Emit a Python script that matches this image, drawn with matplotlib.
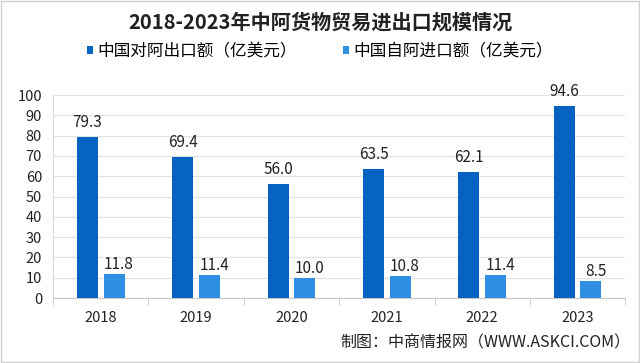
import matplotlib.pyplot as plt
import numpy as np

plt.rcParams['font.family'] = ['Noto Sans CJK SC', 'DejaVu Sans']

years = ["2018", "2019", "2020", "2021", "2022", "2023"]
exports = [79.3, 69.4, 56.0, 63.5, 62.1, 94.6]
imports = [11.8, 11.4, 10.0, 10.8, 11.4, 8.5]
yticks = list(range(0, 101, 10))

title = "2018-2023年中阿货物贸易进出口规模情况"
label_exp = "中国对阿出口额（亿美元）"
label_imp = "中国自阿进口额（亿美元）"
source = "制图：中商情报网（WWW.ASKCI.COM）"

dark = "#0663c2"
light = "#2f8fe2"

fig = plt.figure(figsize=(6.4, 3.63), dpi=100)
ax = fig.add_axes([0.083, 0.179, 0.894, 0.559])

x = np.arange(len(years))
w = 0.22
gap = 0.03
b1 = ax.bar(x - w / 2 - gap, exports, w, color=dark, label=label_exp, zorder=3)
b2 = ax.bar(x + w / 2 + gap, imports, w, color=light, label=label_imp, zorder=3)

for rect, v in zip(b1, exports):
    ax.text(rect.get_x() + rect.get_width() / 2, v + 3, f"{v:.1f}",
            ha="center", va="bottom", fontsize=11, color="#222222")
for rect, v in zip(b2, imports):
    ax.text(rect.get_x() + rect.get_width() / 2 + 0.05, v + 0.3, f"{v:.1f}",
            ha="center", va="bottom", fontsize=11, color="#222222")

ax.set_xlim(-0.5, len(years) - 0.5)
ax.set_ylim(0, 100)
ax.set_yticks(yticks)
ax.set_xticks(x)
ax.set_xticklabels(years)
ax.tick_params(axis="y", length=0, labelsize=10.5, pad=8, colors="#222222")
ax.tick_params(axis="x", length=0, labelsize=10.5, pad=9, colors="#222222")
ax.set_xticks(np.arange(-0.5, len(years), 1), minor=True)
ax.tick_params(axis="x", which="minor", length=5, color="#c8c8c8")
ax.grid(axis="y", color="#e2e2e2", linewidth=0.9, zorder=0)
for s in ["top", "right"]:
    ax.spines[s].set_visible(False)
ax.spines["left"].set_color("#d8d8d8")
ax.spines["bottom"].set_color("#c8c8c8")

fig.text(0.5, 0.94, title, ha="center", va="center", fontsize=14.5,
         fontweight="bold", color="#222222")
fig.legend(handles=[b1, b2], loc="center", bbox_to_anchor=(0.5, 0.858),
           ncol=2, frameon=False, fontsize=12, handlelength=0.35,
           handleheight=0.35, handletextpad=0.25, columnspacing=2.8)
fig.text(0.985, 0.055, source, ha="right", va="center", fontsize=11.5,
         color="#222222")

fig.patches.append(plt.Rectangle((0.002, 0.003), 0.996, 0.994, transform=fig.transFigure,
                                 fill=False, edgecolor="#d0d0d0", linewidth=1))

fig.savefig("out.png", dpi=100)
